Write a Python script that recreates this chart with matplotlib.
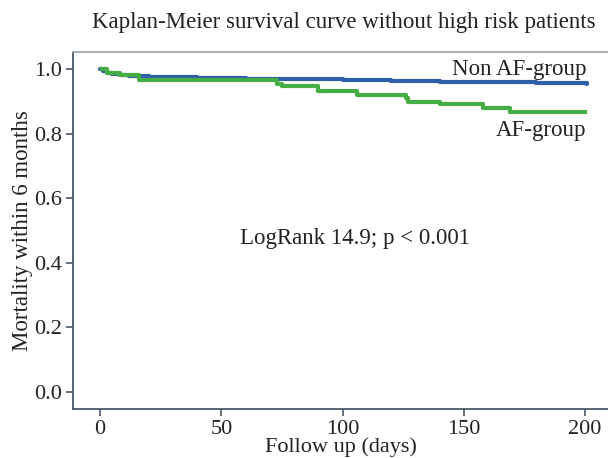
import matplotlib
matplotlib.use("Agg")
import matplotlib.pyplot as plt

# Non AF-group (blue) step curve
nonaf_days = [0, 1, 3, 5, 8, 12, 20, 40, 60, 80, 100, 120, 140, 160, 180, 201]
nonaf_surv = [1.0, 0.995, 0.99, 0.985, 0.981, 0.978, 0.976, 0.973, 0.971, 0.969, 0.966, 0.964, 0.962, 0.960, 0.958, 0.956]

# AF-group (green) step curve
af_days = [0, 3, 8, 16, 73, 75, 90, 106, 126, 127, 140, 158, 169, 201]
af_surv = [1.0, 0.99, 0.982, 0.968, 0.955, 0.947, 0.933, 0.921, 0.912, 0.900, 0.893, 0.881, 0.868, 0.868]

x_ticks = [0, 50, 100, 150, 200]
y_ticks = [0.0, 0.2, 0.4, 0.6, 0.8, 1.0]

plt.rcParams['font.family'] = ['Liberation Serif', 'DejaVu Serif']

fig = plt.figure(figsize=(6.08, 4.58), dpi=100)
ax = fig.add_axes([0.120, 0.107, 0.88, 0.779])

blue = '#2f5fa8'
green = '#44ad44'
ax.step(nonaf_days, nonaf_surv, where='post', color=blue, lw=3.0, solid_capstyle='round')
ax.step(af_days, af_surv, where='post', color=green, lw=3.0, solid_capstyle='butt')

ax.set_xlim(-11.2, 209.5)
ax.set_ylim(-0.053, 1.053)
ax.set_xticks(x_ticks)
ax.set_xticklabels([str(v) for v in x_ticks])
ax.set_yticks(y_ticks)
ax.set_yticklabels([f"{v:.1f}" for v in y_ticks])

spine_col = '#4b5866'
for s in ['left', 'bottom']:
    ax.spines[s].set_color(spine_col)
    ax.spines[s].set_linewidth(1.3)
ax.spines['top'].set_color('#a0a6ac')
ax.spines['top'].set_linewidth(1.3)
ax.spines['right'].set_visible(False)
ax.tick_params(axis='both', direction='out', length=5, width=1.2, color=spine_col,
               labelsize=16, labelcolor='#222222', pad=3)

txt = '#222222'
ax.set_xlabel('Follow up (days)', fontsize=16, color=txt, labelpad=-1)
ax.set_ylabel('Mortality within 6 months', fontsize=16.5, color=txt, labelpad=1)
fig.text(0.565, 0.950, 'Kaplan-Meier survival curve without high risk patients',
         ha='center', va='center', fontsize=16.5, color=txt)

ax.text(200.5, 1.0, 'Non AF-group', ha='right', va='center', fontsize=16.5, color=txt)
ax.text(200.5, 0.81, 'AF-group', ha='right', va='center', fontsize=16.5, color=txt)
ax.text(57.5, 0.477, 'LogRank 14.9; p < 0.001', ha='left', va='center', fontsize=16.5, color=txt)

fig.savefig('out.png', dpi=100)
